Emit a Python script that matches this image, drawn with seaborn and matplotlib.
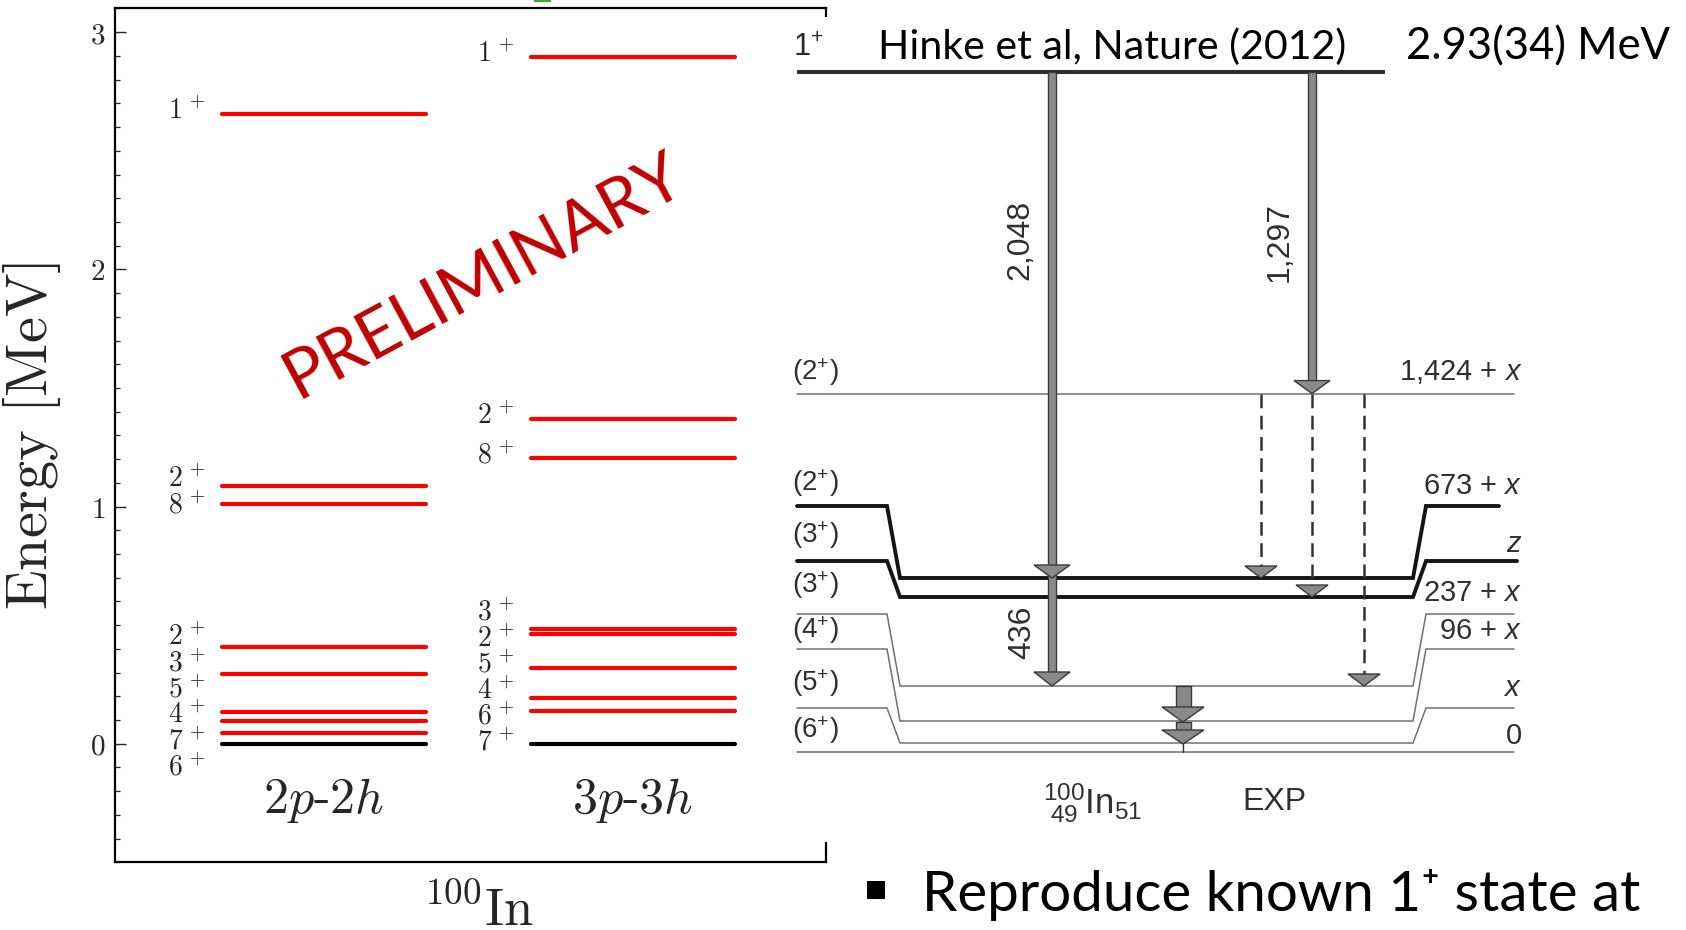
import numpy as np
import pandas as pd
import matplotlib
matplotlib.use("Agg")
import matplotlib.pyplot as plt
import seaborn as sns
from matplotlib.patches import Rectangle, Polygon
from matplotlib.ticker import MultipleLocator, FixedLocator, FixedFormatter

# ---------------- data ----------------
column_names = ["2p-2h", "3p-3h"]
column_labels = [r"$2p$-$2h$", r"$3p$-$3h$"]
energies_2p2h = [0.000, 0.046, 0.095, 0.133, 0.292, 0.408, 1.010, 1.086, 2.655]
spins_2p2h = ["6", "7", "4", "5", "3", "2", "8", "2", "1"]
energies_3p3h = [0.000, 0.138, 0.194, 0.321, 0.464, 0.482, 1.204, 1.370, 2.896]
spins_3p3h = ["7", "6", "4", "5", "2", "3", "8", "2", "1"]
energy_ticks = [0, 1, 2, 3]
energy_tick_labels = ["$0$", "$1$", "$2$", "$3$"]
ylabel_text = r"$\mathrm{Energy\ [MeV]}$"
xlabel_text = r"$^{100}\mathrm{In}$"
watermark = "PRELIMINARY"

# experimental scheme (Hinke et al.)
exp_reference = "Hinke et al, Nature (2012)"
exp_top_state = r"1$^{+}$"
exp_top_energy = "2.93(34) MeV"
exp_left_spins = [r"(2$^{+}$)", r"(2$^{+}$)", r"(3$^{+}$)", r"(3$^{+}$)", r"(4$^{+}$)", r"(5$^{+}$)", r"(6$^{+}$)"]
exp_right_energies = [r"1,424 + $x$", r"673 + $x$", r"$z$", r"237 + $x$", r"96 + $x$", r"$x$", "0"]
exp_transitions = ["2,048", "1,297", "436"]
nucleus_label = r"$^{100}_{\ 49}\mathrm{In}_{51}$"
exp_column = "EXP"
bullet_text = "Reproduce known 1\u207a state at"

# ---------------- style ----------------
sns.set_style("white")
plt.rcParams["mathtext.fontset"] = "cm"
plt.rcParams["mathtext.rm"] = "Liberation Sans"
plt.rcParams["mathtext.it"] = "Liberation Sans:italic"
plt.rcParams["mathtext.bf"] = "Liberation Sans:bold"
plt.rcParams["font.family"] = ["DejaVu Sans"]

W, H = 1686, 930
fig = plt.figure(figsize=(W / 100, H / 100), dpi=100)
fig.patch.set_facecolor("white")

# ---------------- left panel (seaborn) ----------------
ax_l, ax_r, ax_t, ax_b = 115, 826, 8.5, 862.3
ax = fig.add_axes([ax_l / W, 1 - ax_b / H, (ax_r - ax_l) / W, (ax_b - ax_t) / H])

half_w = 0.33
rows = []
for ci, (name, ens) in enumerate(zip(column_names, [energies_2p2h, energies_3p3h])):
    for j, e in enumerate(ens):
        kind = "ground" if e == 0 else "excited"
        for xx in (ci - half_w, ci + half_w):
            rows.append({"x": xx, "E": e, "level": f"{name}-{j}", "kind": kind})
df = pd.DataFrame(rows)
sns.lineplot(data=df, x="x", y="E", units="level", estimator=None, hue="kind",
             palette={"ground": "black", "excited": "#ff0000"}, linewidth=3,
             legend=False, sort=False, ax=ax)

ax.set_xlim(-0.676, 1.625)
ax.set_ylim(-0.5, 3.1)
ax.set_xticks([])
ax.yaxis.set_major_locator(FixedLocator(energy_ticks))
ax.yaxis.set_major_formatter(FixedFormatter(energy_tick_labels))
ax.yaxis.set_minor_locator(MultipleLocator(0.1))
ax.tick_params(axis="y", which="major", direction="in", length=7.7, width=1.0,
               left=True, right=False, labelsize=21, pad=7)
ax.tick_params(axis="y", which="minor", direction="in", length=3.6, width=0.9,
               left=True, right=False)
for s in ax.spines.values():
    s.set_linewidth(1.6)
    s.set_color("black")
ax.set_xlabel("")
ax.set_ylabel(ylabel_text, fontsize=42)
ax.yaxis.set_label_coords((63 - ax_l) / (ax_r - ax_l), 0.5)


def spread(vals, gap):
    vals = np.asarray(vals, float)
    order = np.argsort(vals)
    v = vals[order]
    z = v - np.arange(len(v)) * gap
    means, counts = [], []
    for zi in z:
        means.append(zi)
        counts.append(1)
        while len(means) > 1 and means[-2] > means[-1]:
            c = counts[-2] + counts[-1]
            m = (means[-2] * counts[-2] + means[-1] * counts[-1]) / c
            means[-2:] = [m]
            counts[-2:] = [c]
    iso = np.repeat(means, counts)
    p = iso + np.arange(len(v)) * gap
    out = np.empty_like(p)
    out[order] = p
    return out


for ci, (ens, spins) in enumerate([(energies_2p2h, spins_2p2h), (energies_3p3h, spins_3p3h)]):
    ly = spread(ens, 0.11)
    for y, s in zip(ly, spins):
        ax.text(ci - 0.385, y + 0.012, rf"${s}^{{\,+}}$", ha="right", va="center", fontsize=20)
    ax.text(ci, -0.24, column_labels[ci], ha="center", va="center", fontsize=36,
            family="cmr10")

# ---------------- overlay in pixel coordinates ----------------
ov = fig.add_axes([0, 0, 1, 1], zorder=5)
ov.set_xlim(0, W)
ov.set_ylim(H, 0)
ov.axis("off")
ov.patch.set_alpha(0)

# pasted picture background (hides the right spine)
ov.add_patch(Rectangle((786, 17), 900, 825, facecolor="white", edgecolor="none", zorder=0))
# small green mark at the top
ov.add_patch(Rectangle((534, 0), 17, 2, facecolor="#3fa53f", edgecolor="none"))

renderer = fig.canvas.get_renderer()


def fit(t, target_w):
    w = t.get_window_extent(renderer).width
    t.set_fontsize(t.get_fontsize() * target_w / w)
    return t


# x-label of the left panel
ov.text(478, 925, xlabel_text, ha="center", va="baseline", fontsize=38)

# PRELIMINARY watermark
t = ov.text(493, 293, watermark, ha="center", va="baseline", fontsize=50,
            family="Lato", color="#c00000", rotation_mode="anchor")
fit(t, 445)
t.set_rotation(28.4)

SANS = ["Liberation Sans", "DejaVu Sans"]
CAL = ["Lato", "DejaVu Sans"]
dark = "#2a2a2a"
gray_txt = "#303030"

# top state
ov.plot([797, 1385], [72, 72], color="#2e2e2e", lw=2.9, solid_capstyle="butt")
ov.text(793, 48, exp_top_state, ha="left", va="center", fontsize=22, family=SANS,
        color=dark, math_fontfamily="custom")
t = ov.text(878, 47, exp_reference, ha="left", va="center", fontsize=30, family=CAL, color="black")
fit(t, 468)
t = ov.text(1406, 47, exp_top_energy, ha="left", va="center", fontsize=30, family=CAL, color="black")
fit(t, 264)

# levels: side y, middle y, right end, thickness
side_y = [393.6, 506, 561, 614, 649, 708, 752]
mid_y = [393.6, 578, 597, 686, 721, 743, 752]
right_end = [1514, 1499, 1517, 1514, 1514, 1514, 1514]
thick = [False, True, True, False, False, False, False]
label_left_y = [372, 483, 535, 585, 630, 683, 730]
label_right_y = [372, 486, 544, 593, 631, 688, 736]

for sy, my, xe, th in zip(side_y, mid_y, right_end, thick):
    col = "#151515" if th else "#707070"
    lw = 2.8 if th else 1.1
    if sy == my:
        xs, ys = [797, xe], [sy, sy]
    else:
        xs = [797, 887, 900, 1413, 1426, xe]
        ys = [sy, sy, my, my, sy, sy]
    ov.plot(xs, ys, color=col, lw=lw, solid_joinstyle="miter", zorder=2)

for y, s in zip(label_left_y, exp_left_spins):
    ov.text(792, y, s, ha="left", va="center", fontsize=20, family=SANS,
            color=gray_txt, math_fontfamily="custom")
for y, s in zip(label_right_y, exp_right_energies):
    ov.text(1522, y, s, ha="right", va="center", fontsize=21, family=SANS,
            color=gray_txt, math_fontfamily="custom")

fill, edge = "#8a8a8a", "#3a3a3a"


def shaft(x, y0, y1, w):
    ov.add_patch(Rectangle((x - w / 2, y0), w, y1 - y0, facecolor=fill, edgecolor=edge,
                           lw=1.0, zorder=4))


def head(x, ytip, w, h):
    ov.add_patch(Polygon([(x - w / 2, ytip - h), (x + w / 2, ytip - h), (x, ytip)],
                         closed=True, facecolor=fill, edgecolor=edge, lw=1.0, zorder=5))


# 2,048 + 436 cascade
shaft(1052, 72, 674, 8)
head(1052, 578, 36, 13)
head(1052, 686, 36, 14)
# 1,297
shaft(1312, 72, 382, 8)
head(1312, 393.6, 36, 13)
# dashed transitions from 1,424 + x
for x, yt in [(1261, 578), (1312, 597), (1364, 686)]:
    ov.plot([x, x], [394, yt - 10], color="#333333", lw=1.8, ls=(0, (5.5, 3)), zorder=3)
    head(x, yt, 32, 12)
# thick short transitions
shaft(1183, 686, 709, 15)
head(1183, 722, 42, 15)
shaft(1183, 722, 732, 15)
head(1183, 744, 42, 14)
ov.plot([1183, 1183], [744, 752], color="#333333", lw=1.0, zorder=3)

# transition energies
for (x, y), s in zip([(1020, 240), (1280, 242), (1022, 632)], exp_transitions):
    ov.text(x, y, s, rotation=90, ha="center", va="center", fontsize=23,
            family=SANS, color=gray_txt)

ov.text(1093, 803, nucleus_label, ha="center", va="center", fontsize=25,
        color=gray_txt, math_fontfamily="custom")
ov.text(1274, 802, exp_column, ha="center", va="center", fontsize=23, family=SANS,
        color=gray_txt)

# bullet line
ov.add_patch(Rectangle((867, 881), 18, 18, facecolor="black", edgecolor="none"))
t = ov.text(922, 911, bullet_text, ha="left", va="baseline", fontsize=36, family=CAL,
            color="black")
fit(t, 718)

fig.savefig("out.png", dpi=100, facecolor="white")
